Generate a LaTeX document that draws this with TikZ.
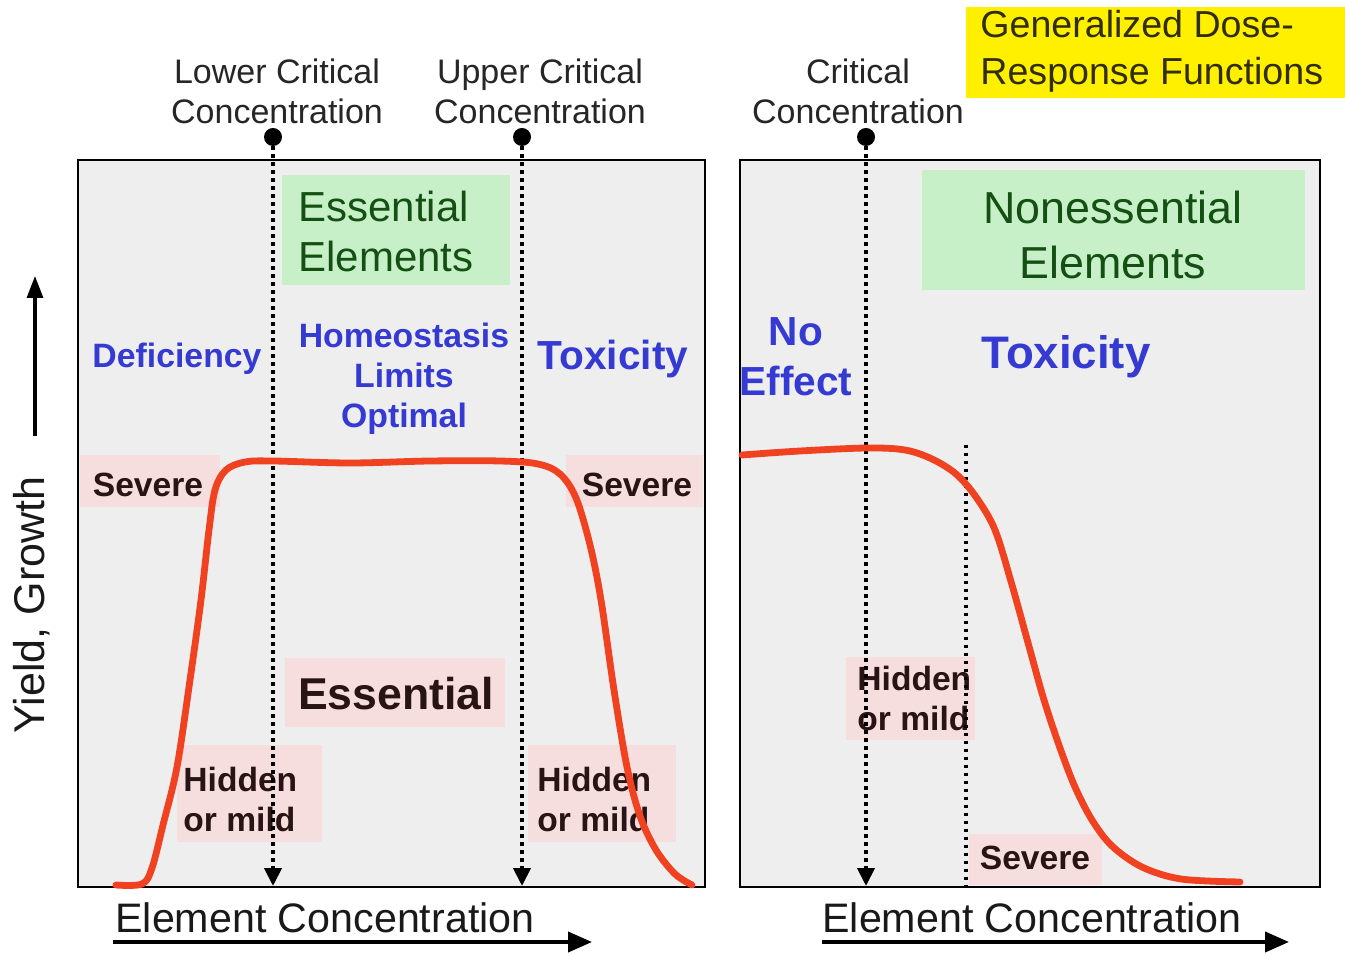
\documentclass[tikz,border=0pt]{standalone}
\usepackage{fontspec}
\setmainfont{Liberation Sans}
\usetikzlibrary{arrows.meta}
\definecolor{panelgray}{RGB}{238,238,238}
\definecolor{boxgreen}{RGB}{200,240,200}
\definecolor{txtgreen}{RGB}{20,80,20}
\definecolor{txtblue}{RGB}{52,58,210}
\definecolor{curvered}{RGB}{240,66,32}
\definecolor{softpink}{RGB}{247,222,222}
\definecolor{hlyellow}{RGB}{255,240,0}
\definecolor{txtdark}{RGB}{40,20,20}
\definecolor{txtolive}{RGB}{50,45,0}
\begin{document}
\begin{tikzpicture}[x=0.5pt,y=-0.5pt,
  panel/.style={draw=black,line width=1pt,fill=panelgray},
  crit/.style={font=\fontsize{17}{20}\selectfont,align=center,inner sep=0pt,text=black!85},
  cdot/.style={circle,fill=black,inner sep=0pt,minimum size=9pt},
  dotline/.style={line width=2pt,dash pattern=on 1.6pt off 2.4pt},
  dottip/.style={-{Triangle[length=9pt,width=8.5pt]}},
  bluebig/.style={font=\fontsize{20.3}{25}\selectfont\bfseries,text=txtblue,inner sep=0pt,align=center},
  bluesmall/.style={font=\fontsize{16.9}{20}\selectfont\bfseries,text=txtblue,inner sep=0pt,align=center},
  sevlabel/.style={font=\fontsize{16.8}{20}\selectfont\bfseries,text=txtdark,inner sep=0pt,align=left},
  greenlabel/.style={text=txtgreen,inner sep=0pt},
  axislabel/.style={font=\fontsize{20.6}{24}\selectfont,inner sep=0pt,text=black!90},
  axisarrow/.style={line width=2pt,-{Triangle[length=12pt,width=10pt]}},
  redcurve/.style={draw=curvered,line width=3.4pt,line cap=round,line join=round}
]
\useasboundingbox (0,0) rectangle (1345,956);
\fill[white] (0,0) rectangle (1345,956);

% title
\fill[hlyellow] (966,7) rectangle (1345,98);
\node[font=\fontsize{18.8}{23.5}\selectfont,text=txtolive,inner sep=0pt,align=left,anchor=west] (title) at (980,51) {Generalized Dose-\\Response Functions};

% panels
\draw[panel] (78,160) rectangle (705,887);
\draw[panel] (740,160) rectangle (1320,887);

% green boxes
\fill[boxgreen] (282,175) rectangle (510,285);
\fill[boxgreen] (922,170) rectangle (1305,290);

% pink soft boxes
\fill[softpink] (80,455) rectangle (220,507);
\fill[softpink] (566,455) rectangle (703,507);
\fill[softpink] (285,658) rectangle (505,727);
\fill[softpink] (177,745) rectangle (322,842);
\fill[softpink] (528,745) rectangle (676,842);
\fill[softpink] (846,657) rectangle (975,740);
\fill[softpink] (969,834) rectangle (1102,885);

% texts in boxes
\node[greenlabel,font=\fontsize{21}{25}\selectfont,align=left,anchor=west] (ess) at (298,231) {Essential\\Elements};
\node[greenlabel,font=\fontsize{22.4}{27.5}\selectfont,align=center] (noness) at (1113,235) {Nonessential\\Elements};

\node[bluesmall] (defic) at (177,359) {Deficiency};
\node[bluesmall] (homeo) at (404,379) {Homeostasis\\Limits\\Optimal};
\node[bluebig] (toxl) at (613,359) {Toxicity};
\node[bluebig,align=center] (noeff) at (796,357) {No\\Effect};
\node[bluebig,font=\fontsize{22.8}{27}\selectfont\bfseries] (toxr) at (1066,357) {Toxicity};

\node[sevlabel] (sev1) at (148,485) {Severe};
\node[sevlabel] (sev2) at (637,485) {Severe};
\node[sevlabel] (sev3) at (1035,858) {Severe};
\node[sevlabel,font=\fontsize{22.3}{26}\selectfont\bfseries] (essn) at (396,694) {Essential};
\node[sevlabel,anchor=west] (hid1) at (183,799) {Hidden\\or mild};
\node[sevlabel,anchor=west] (hid2) at (537,799) {Hidden\\or mild};
\node[sevlabel,anchor=west] (hid3) at (857,698) {Hidden\\or mild};

% critical concentration labels and markers
\node[crit] (lcc) at (277,91) {Lower Critical\\Concentration};
\node[crit] (ucc) at (540,91) {Upper Critical\\Concentration};
\node[crit] (rcc) at (858,91) {Critical\\Concentration};
\node[cdot] (d1) at (273,137) {};
\node[cdot] (d2) at (522,137) {};
\node[cdot] (d3) at (866,137) {};
\coordinate (b1) at (273,886);
\coordinate (b2) at (522,886);
\coordinate (b3) at (866,886);
\coordinate (t4) at (966,445);
\coordinate (b4) at (966,887);
\draw[dotline,dottip] (d1) -- (b1);
\draw[dotline,dottip] (d2) -- (b2);
\draw[dotline,dottip] (d3) -- (b3);
\draw[dotline] (t4) -- (b4);

% curves
\draw[redcurve] plot[smooth,tension=0.55] coordinates {(116,885) (142,884) (152,868) (163,825) (177,767) (190,680) (201,600) (209,530) (215,490) (226,470) (245,462) (273,461) (350,463) (430,461) (500,461) (538,464) (560,474) (576,498) (590,545) (601,600) (614,690) (627,767) (640,816) (656,850) (675,874) (692,885)};
\draw[redcurve] plot[smooth,tension=0.55] coordinates {(742,455) (800,451) (867,448) (905,450) (932,459) (956,474) (976,497) (995,530) (1012,585) (1030,650) (1044,700) (1060,748) (1075,787) (1092,820) (1112,846) (1142,867) (1181,879) (1240,882)};

% axes
\node[axislabel] (xl1) at (325,918) {Element Concentration};
\node[axislabel] (xl2) at (1032,918) {Element Concentration};
\coordinate (xa1s) at (113,942);
\coordinate (xa1e) at (592,942);
\coordinate (xa2s) at (822,942);
\coordinate (xa2e) at (1289,942);
\draw[axisarrow] (xa1s) -- (xa1e);
\draw[axisarrow] (xa2s) -- (xa2e);
\node[axislabel,font=\fontsize{21.5}{24}\selectfont,rotate=90] (yl) at (32,605) {Yield, Growth};
\coordinate (ya1) at (35,436);
\coordinate (ya2) at (35,276);
\draw[line width=1.6pt,-{Triangle[length=11pt,width=8pt]}] (ya1) -- (ya2);
\end{tikzpicture}
\end{document}
